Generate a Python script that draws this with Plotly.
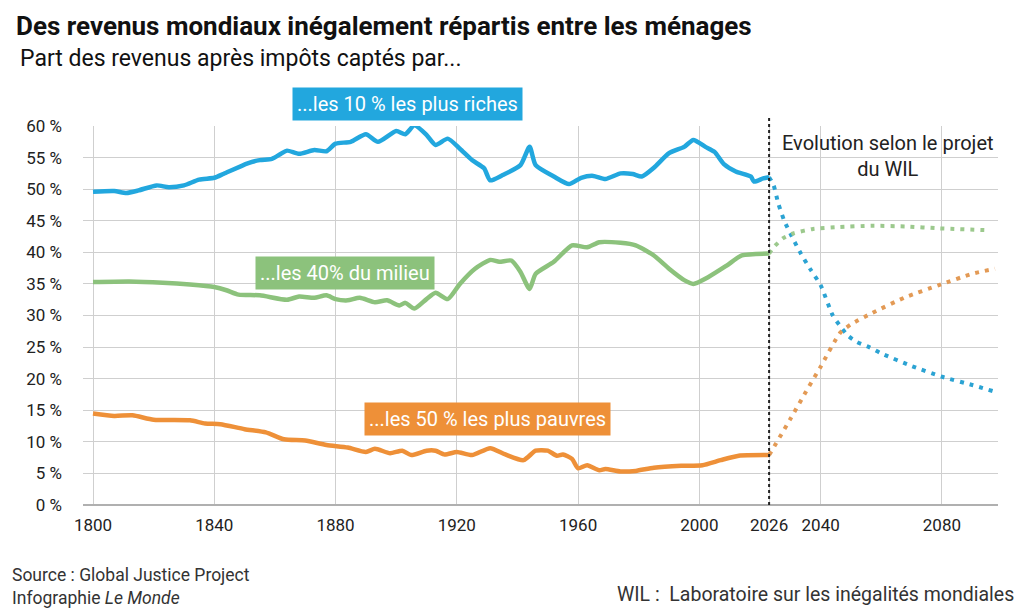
import plotly.graph_objects as go

# share of after-tax income, in %
hist_years_top10 = [1800, 1807, 1811, 1815, 1821, 1825, 1830, 1835, 1840, 1843, 1851, 1855, 1859, 1862,
                    1864, 1868, 1873, 1877, 1880, 1885, 1890, 1894, 1900, 1903, 1906, 1910, 1913, 1917,
                    1921, 1925, 1929, 1931, 1935, 1941, 1944, 1946, 1952, 1957, 1961, 1965, 1969, 1974,
                    1978, 1981, 1985, 1990, 1995, 1998, 2002, 2005, 2008, 2012, 2017, 2018, 2021, 2023]
hist_top10 = [49.6, 49.7, 49.4, 49.8, 50.6, 50.3, 50.6, 51.5, 51.8, 52.4, 54.1, 54.6, 54.8, 55.6,
              56.1, 55.6, 56.2, 56.0, 57.2, 57.5, 58.7, 57.5, 59.2, 58.7, 60.1, 58.6, 57.0, 58.0,
              56.4, 54.6, 53.3, 51.4, 52.2, 53.8, 56.7, 53.8, 52.0, 50.8, 51.8, 52.1, 51.6, 52.5,
              52.4, 52.0, 53.4, 55.7, 56.7, 57.8, 56.7, 55.9, 54.0, 52.8, 52.0, 51.2, 51.7, 51.9]

hist_years_mid40 = [1800, 1812, 1823, 1832, 1840, 1844, 1848, 1855, 1864, 1868, 1873, 1877, 1880, 1884,
                    1888, 1893, 1897, 1901, 1903, 1906, 1910, 1913, 1917, 1921, 1926, 1931, 1934, 1938,
                    1941, 1944, 1946, 1952, 1958, 1963, 1967, 1974, 1979, 1985, 1990, 1995, 1998, 2003,
                    2009, 2014, 2023]
hist_mid40 = [35.3, 35.4, 35.2, 34.9, 34.5, 34.0, 33.3, 33.2, 32.5, 33.0, 32.8, 33.2, 32.6, 32.4,
              32.8, 32.1, 32.4, 31.6, 32.0, 31.1, 32.6, 33.6, 32.6, 35.0, 37.4, 38.8, 38.5, 38.7,
              36.9, 34.2, 36.6, 38.5, 41.1, 40.8, 41.6, 41.5, 41.1, 39.5, 37.4, 35.6, 35.0, 36.1,
              37.9, 39.5, 39.8]

hist_years_bot50 = [1800, 1807, 1813, 1820, 1832, 1837, 1842, 1850, 1857, 1863, 1870, 1877, 1884, 1890,
                    1893, 1898, 1902, 1905, 1910, 1913, 1916, 1920, 1925, 1931, 1936, 1942, 1946, 1950,
                    1953, 1955, 1958, 1960, 1963, 1967, 1969, 1974, 1979, 1985, 1994, 2001, 2007, 2013,
                    2023]
hist_bot50 = [14.5, 14.1, 14.2, 13.5, 13.4, 12.9, 12.8, 12.0, 11.5, 10.4, 10.2, 9.5, 9.1, 8.4,
              8.9, 8.2, 8.6, 7.9, 8.6, 8.6, 8.0, 8.4, 7.9, 9.0, 8.0, 7.1, 8.6, 8.6,
              7.8, 8.0, 7.3, 5.8, 6.3, 5.5, 5.7, 5.3, 5.4, 5.9, 6.2, 6.3, 7.1, 7.8,
              7.9]

# WIL projections
proj_years_top10 = [2023, 2024.5, 2026, 2028, 2030, 2033, 2036.5, 2040, 2044, 2046.5, 2049, 2052, 2056,
                    2060, 2070, 2080, 2090, 2097]
proj_top10 = [51.9, 50.6, 47.8, 45.0, 43.0, 40.2, 37.4, 34.8, 30.0, 28.3, 26.8, 25.8, 25.0,
              24.0, 22.0, 20.3, 19.0, 18.0]
proj_years_mid40 = [2023, 2024.5, 2027.5, 2031, 2037.5, 2046, 2057, 2068, 2079, 2096]
proj_mid40 = [39.8, 40.8, 42.2, 43.0, 43.7, 44.0, 44.2, 44.1, 43.8, 43.5]
proj_years_bot50 = [2023, 2030, 2035, 2040, 2046.5, 2050, 2057, 2068, 2079, 2090, 2097.5]
proj_bot50 = [7.9, 13.6, 17.8, 21.9, 27.3, 28.6, 30.4, 32.9, 34.8, 36.6, 37.4]

tick_years = [1800, 1840, 1880, 1920, 1960, 2000, 2023, 2040, 2080]
tick_labels = ["1800", "1840", "1880", "1920", "1960", "2000", "2026", "2040", "2080"]
pct_ticks = [0, 5, 10, 15, 20, 25, 30, 35, 40, 45, 50, 55, 60]
pct_labels = [f"{v} %" for v in pct_ticks]

BLUE = "#22a7de"
GREEN = "#8cc27c"
ORANGE = "#ee9038"
FONT = "Roboto"

fig = go.Figure()

series = [
    (hist_years_top10, hist_top10, proj_years_top10, proj_top10, BLUE, "#2ba3d3"),
    (hist_years_mid40, hist_mid40, proj_years_mid40, proj_mid40, GREEN, "#9cc98d"),
    (hist_years_bot50, hist_bot50, proj_years_bot50, proj_bot50, ORANGE, "#e39a55"),
]
for hx, hy, px_, py_, col, pcol in series:
    fig.add_trace(go.Scatter(x=hx, y=hy, mode="lines", cliponaxis=False,
                             line=dict(color=col, width=4.5, shape="spline", smoothing=0.6),
                             hoverinfo="skip", showlegend=False))
    fig.add_trace(go.Scatter(x=px_, y=py_, mode="lines", cliponaxis=False,
                             line=dict(color=pcol, width=4, dash="4px,6px", shape="spline", smoothing=0.6),
                             hoverinfo="skip", showlegend=False))

# start of the projections
fig.add_shape(type="line", x0=2023, x1=2023, y0=0, y1=1.025, xref="x", yref="paper",
              line=dict(color="#222222", width=2, dash="dot"))

# series labels (y in paper units for the top one, it sits above the axis range)
labels = [
    ("...les 10 % les plus riches", 1903.6, 1.058, "paper", BLUE),
    ("...les 40% du milieu", 1883.1, 36.8, "y", GREEN),
    ("...les 50 % les plus pauvres", 1930.1, 13.6, "y", ORANGE),
]
for txt, lx, ly, yref, col in labels:
    fig.add_annotation(x=lx, y=ly, yref=yref, xanchor="center", yanchor="middle",
                       text=txt, showarrow=False, bgcolor=col, borderpad=4,
                       font=dict(family=FONT, size=20, color="white"))

fig.add_annotation(x=2062.2, y=55.2, text="Evolution selon le projet<br>du WIL", showarrow=False,
                   font=dict(family=FONT, size=20, color="#222222"))

# titles and footer
fig.add_annotation(xref="paper", yref="paper", x=-0.075, y=1.264, xanchor="left", yanchor="middle",
                   text="<b>Des revenus mondiaux inégalement répartis entre les ménages</b>",
                   showarrow=False, font=dict(family=FONT, size=26, color="#111111"))
fig.add_annotation(xref="paper", yref="paper", x=-0.071, y=1.179, xanchor="left", yanchor="middle",
                   text="Part des revenus après impôts captés par...",
                   showarrow=False, font=dict(family=FONT, size=23, color="#111111"))
fig.add_annotation(xref="paper", yref="paper", x=-0.08, y=-0.216, xanchor="left", yanchor="middle",
                   align="left", text="Source : Global Justice Project<br>Infographie <i>Le Monde</i>",
                   showarrow=False, font=dict(family=FONT, size=17.5, color="#333333"))
fig.add_annotation(xref="paper", yref="paper", x=1.02, y=-0.235, xanchor="right", yanchor="middle",
                   text="WIL :  Laboratoire sur les inégalités mondiales",
                   showarrow=False, font=dict(family=FONT, size=19.5, color="#333333"))

fig.update_xaxes(range=[1796.7, 2098.5], tickvals=tick_years, ticktext=tick_labels,
                 showgrid=True, gridcolor="#cfcfcf", gridwidth=1, zeroline=False,
                 showline=False, ticks="", ticklabelstandoff=8,
                 tickfont=dict(family=FONT, size=17, color="#222222"))
fig.update_yaxes(range=[0, 60], tickvals=pct_ticks, ticktext=pct_labels,
                 showgrid=True, gridcolor="#cfcfcf", gridwidth=1,
                 zeroline=True, zerolinecolor="#b0b0b0", zerolinewidth=1.5,
                 ticks="", ticklabelstandoff=20,
                 tickfont=dict(family=FONT, size=17, color="#222222"))

# the page adds an 8px body margin, so the figure is sized and placed to compensate
fig.update_layout(
    width=1016, height=607,
    margin=dict(l=75, r=26, t=118, b=110),
    paper_bgcolor="white", plot_bgcolor="white",
    showlegend=False,
)

fig.write_html("out.html")
